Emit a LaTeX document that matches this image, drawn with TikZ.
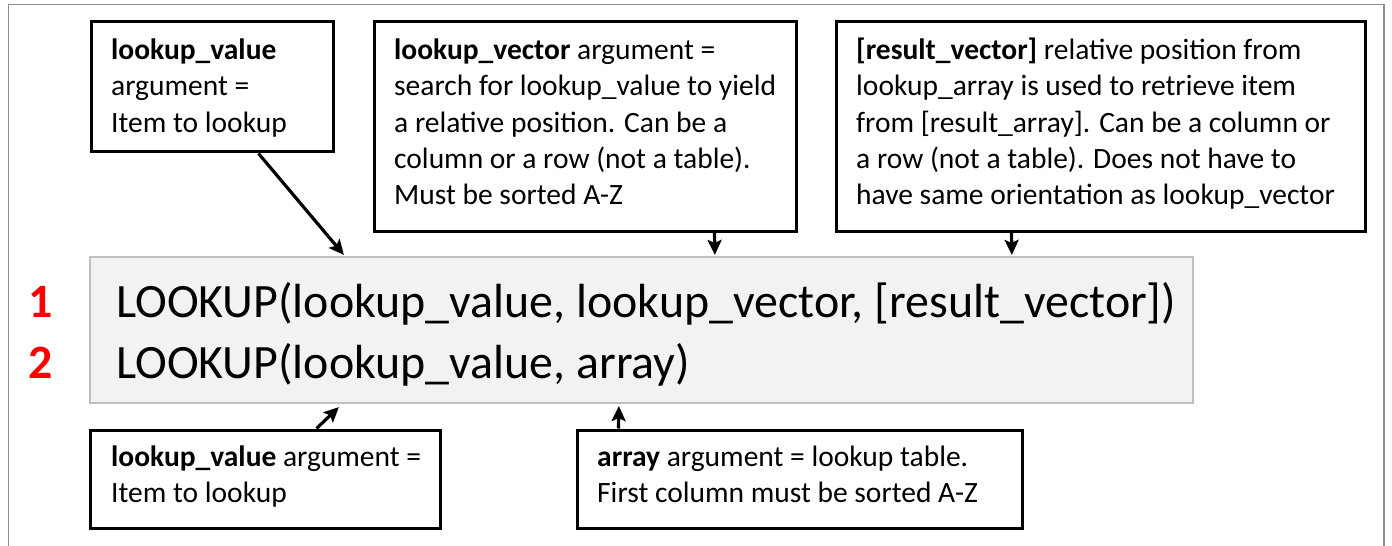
\documentclass[tikz,border=0pt]{standalone}
\usepackage{fontspec}
\setmainfont{Carlito}
\usetikzlibrary{arrows.meta,calc}
\definecolor{boxgray}{HTML}{F2F2F2}
\definecolor{boxedge}{HTML}{BFBFBF}
\definecolor{frame}{HTML}{8C8C8C}
\tikzset{
  box/.style={draw=black, line width=3bp, fill=white, inner sep=0pt},
  formulabox/.style={draw=boxedge, line width=2.2bp, fill=boxgray, inner sep=0pt},
  txt/.style={anchor=north west, inner sep=0pt, align=left,
     font=\fontsize{29.5bp}{36.3bp}\selectfont},
  big/.style={anchor=north west, inner sep=0pt, align=left,
     font=\fontsize{47.9bp}{61bp}\selectfont},
  arr/.style={line width=3.2bp, -{Stealth[length=15bp,width=14bp,inset=3bp]}}
}
\begin{document}
\begin{tikzpicture}[x=1bp,y=-1bp]
\useasboundingbox (0,0) rectangle (1392,546);
\fill[white] (0,0) rectangle (1392,546);
% outer frame
\draw[frame, line width=1.5bp] (8.5,546) -- (8.5,4.5) -- (1384,4.5) -- (1384,546);

% boxes
\node[box, minimum width=242bp, minimum height=130bp] (A) at (212,87) {};
\node[box, minimum width=422bp, minimum height=209bp] (B) at (585,126.5) {};
\node[box, minimum width=529bp, minimum height=209bp] (C) at (1100.5,126.5) {};
\node[formulabox, minimum width=1103bp, minimum height=146bp] (G) at (641.5,330) {};
\node[box, minimum width=349bp, minimum height=98bp] (D) at (265.5,479) {};
\node[box, minimum width=445bp, minimum height=98bp] (E) at (799.5,479) {};

% texts
\node[txt] (tA) at (111,34) {\strut\textbf{lookup\_value}\\argument =\\Item to lookup};
\node[txt] (tB) at (394,34) {\strut\textbf{lookup\_vector} argument =\\search for lookup\_value to yield\\a relative position. Can be a\\column or a row (not a table).\\Must be sorted A-Z};
\node[txt] (tC) at (856,34) {\strut\textbf{[result\_vector]} relative position from\\lookup\_array is used to retrieve item\\from [result\_array]. Can be a column or\\a row (not a table). Does not have to\\have same orientation as lookup\_vector};
\node[txt] (tD) at (111,440.5) {\strut\textbf{lookup\_value} argument =\\Item to lookup};
\node[txt] (tE) at (597,440.5) {\strut\textbf{array} argument = lookup table.\\First column must be sorted A-Z};
\node[big] (tG) at (116,275) {\strut LOOKUP(lookup\_value, lookup\_vector, [result\_vector])\\LOOKUP(lookup\_value, array)};
\node[big, text=red, font=\fontsize{47.9bp}{61bp}\selectfont\bfseries] (num) at (28.5,275) {\strut 1\\2};

% arrows
\draw[arr] ($(A.south west)+(169,0)$) -- ($(G.north west)+(255,-1)$);
\draw[arr] ($(B.south west)+(342,0)$) -- ($(G.north west)+(626,-1)$);
\draw[arr] ($(C.south west)+(177,0)$) -- ($(G.north west)+(923,-1)$);
\draw[arr] ($(D.north west)+(227,0)$) -- ($(G.south west)+(250,3)$);
\draw[arr] ($(E.north west)+(43,0)$) -- ($(G.south west)+(530,2)$);
\end{tikzpicture}
\end{document}
